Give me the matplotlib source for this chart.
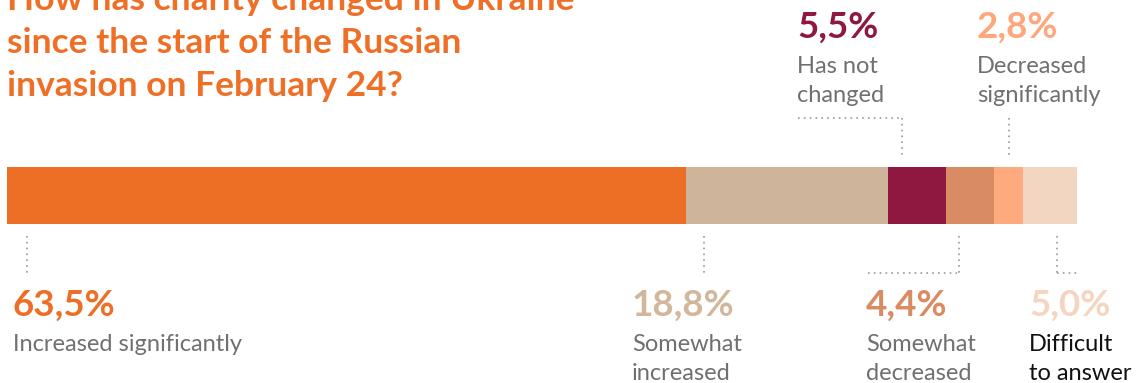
import matplotlib.pyplot as plt

# Survey answers (percent)
answers = ['Increased significantly', 'Somewhat increased', 'Has not changed',
           'Somewhat decreased', 'Decreased significantly', 'Difficult to answer']
shares = [63.5, 18.8, 5.5, 4.4, 2.8, 5.0]
value_labels = ['63,5%', '18,8%', '5,5%', '4,4%', '2,8%', '5,0%']
desc_labels = [['Increased significantly'], ['Somewhat', 'increased'], ['Has not', 'changed'],
               ['Somewhat', 'decreased'], ['Decreased', 'significantly'], ['Difficult', 'to answer']]
title_lines = ['How has charity changed in Ukraine', 'since the start of the Russian',
               'invasion on February 24?']

colors = ['#ED6E25', '#CDB49B', '#8E1840', '#D98C64', '#FFA97E', '#F3D6C2']
text_colors = ['#ED6E25', '#D2B79C', '#8E1840', '#D98C64', '#FFA67A', '#F5D5C0']
desc_colors = ['#707070'] * 5 + ['#111111']

W, H = 1141, 383
BAR_L, BAR_R = 7, 1077
scale = (BAR_R - BAR_L) / 100.0


def px(x):
    # pixel x -> percent axis
    return (x - BAR_L) / scale


fig = plt.figure(figsize=(W / 100, H / 100), dpi=100)
ax = fig.add_axes([0, 0, 1, 1])
ax.set_xlim(px(0), px(W))
ax.set_ylim(H, 0)
ax.axis('off')

# stacked bar
left = 0
starts = []
for s, c in zip(shares, colors):
    ax.barh(195.5, s, left=left, height=57, color=c, edgecolor='none')
    starts.append(left)
    left += s

# title (first line cut off by the top edge, as in the source)
for k, line in enumerate(title_lines):
    ax.text(px(7), 10 + 43 * k, line, color='#EE6F25', fontsize=25.5,
            fontweight='bold', family='Lato', ha='left', va='baseline')

dot = dict(color='#9a9a9a', lw=1.2, linestyle=(0, (1, 2.5)))

# label positions (pixels): value x, above/below, leader offset in segment
text_x = [13, 632, 797, 866, 977, 1029]
above = [False, False, True, False, True, False]
lead_off = [20, 18, 14, 13, None, 33]


def label(i, y_val):
    tx = px(text_x[i])
    ax.text(tx, y_val, value_labels[i], color=text_colors[i], fontsize=26.5,
            fontweight='bold', family='Lato', va='baseline')
    for k, line in enumerate(desc_labels[i]):
        ax.text(tx, y_val + 35 + 29 * k, line, color=desc_colors[i], fontsize=17,
                fontweight='normal', family='Lato', va='baseline')


for i in range(len(shares)):
    seg_l = starts[i]
    if lead_off[i] is None:
        lx = seg_l + shares[i] / 2
    else:
        lx = min(seg_l + lead_off[i] / scale, seg_l + shares[i] * 0.8)
    if above[i]:
        ax.plot([lx, lx], [118, 157], **dot)
        if i == 2:
            ax.plot([px(798), lx], [118, 118], **dot)
        label(i, 38)
    else:
        ax.plot([lx, lx], [236, 273], **dot)
        if i == 3:
            ax.plot([px(868), lx], [273, 273], **dot)
        if i == 5:
            ax.plot([lx, px(1077)], [273, 273], **dot)
        label(i, 316)

fig.savefig('out.png', dpi=100)
